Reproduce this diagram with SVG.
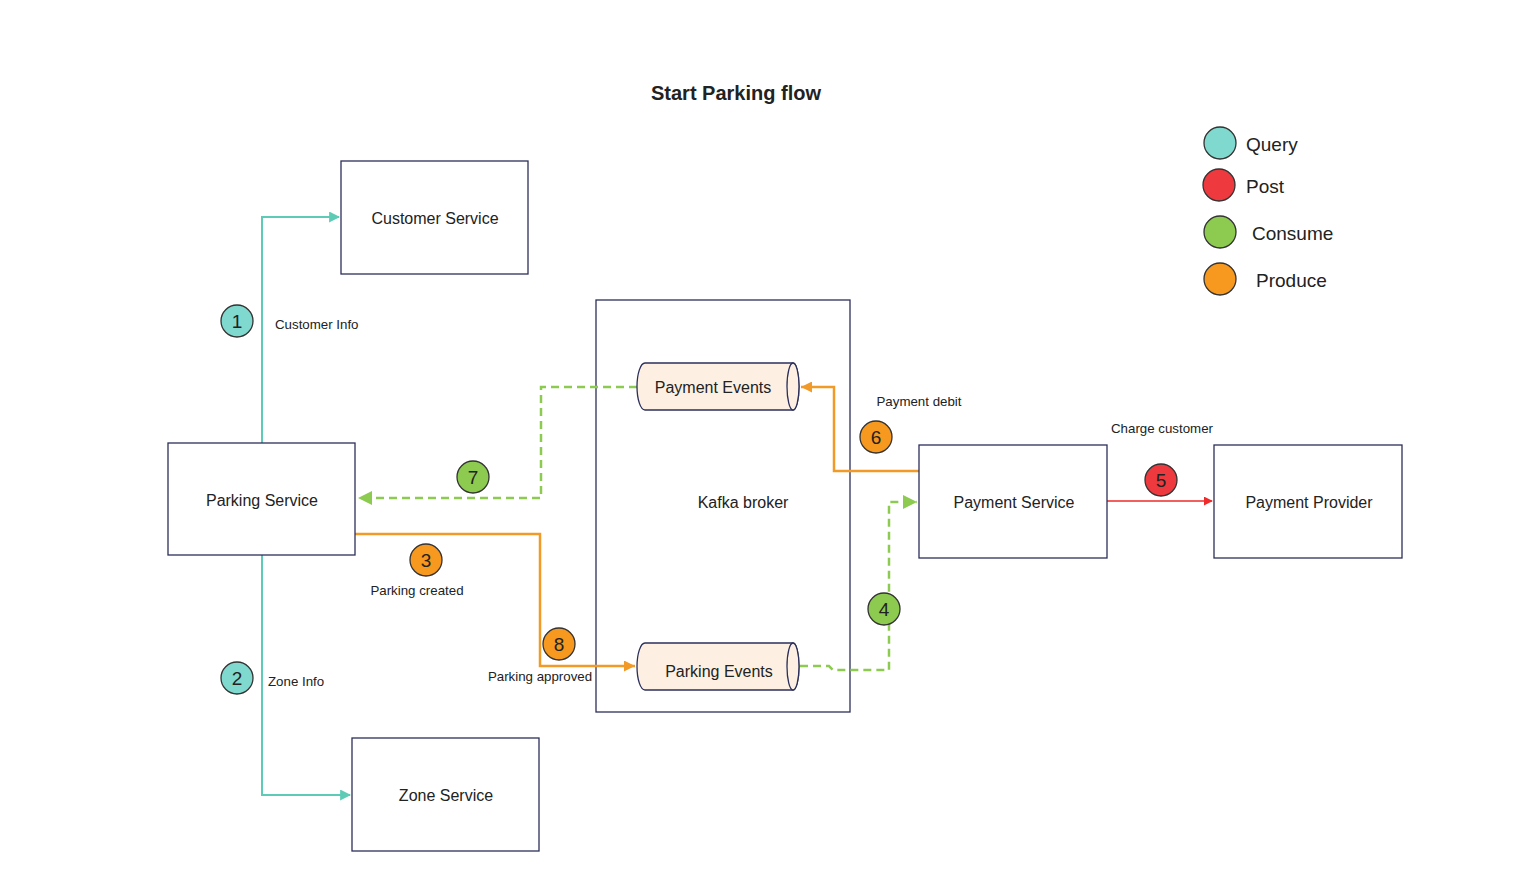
<svg xmlns="http://www.w3.org/2000/svg" width="1536" height="878" viewBox="0 0 1536 878">
<defs>
<style>
.box{fill:#fff;stroke:#2b2f5a;stroke-width:1.3}
.cyl{fill:#fdf0e3;stroke:#2b2f5a;stroke-width:1.3}
.t{font-family:"Liberation Sans",Arial,sans-serif;font-size:16px;fill:#222;text-anchor:middle;dominant-baseline:central}
.s{font-family:"Liberation Sans",Arial,sans-serif;font-size:13.3px;fill:#222}
.n{font-family:"Liberation Sans",Arial,sans-serif;font-size:19px;fill:#222;text-anchor:middle;dominant-baseline:central}
.lg{font-family:"Liberation Sans",Arial,sans-serif;font-size:19px;fill:#222;dominant-baseline:central}
.c{stroke:#333;stroke-width:1.3}
.q{fill:#80d9cf}.p{fill:#ee3a3f}.g{fill:#8ccb4f}.o{fill:#f7991e}
.lq{fill:none;stroke:#5ecbb6;stroke-width:2}
.lo{fill:none;stroke:#f29a27;stroke-width:2.5}
.lg2{fill:none;stroke:#8ccb4f;stroke-width:2.5;stroke-dasharray:8 5}
.lr{fill:none;stroke:#ee2a2a;stroke-width:1.5}
</style>
<marker id="aq" markerWidth="11" markerHeight="11" refX="9" refY="5" orient="auto" markerUnits="userSpaceOnUse" viewBox="0 0 10 10"><path d="M0,0 L10,5 L0,10 Z" fill="#5ecbb6"/></marker>
<marker id="ao" markerWidth="11" markerHeight="11" refX="10" refY="5" orient="auto" markerUnits="userSpaceOnUse" viewBox="0 0 10 10"><path d="M0,0 L10,5 L0,10 Z" fill="#f29a27"/></marker>
<marker id="ag" markerWidth="14" markerHeight="14" refX="10" refY="5" orient="auto" markerUnits="userSpaceOnUse" viewBox="0 0 10 10"><path d="M0,0 L10,5 L0,10 Z" fill="#8ccb4f"/></marker>
<marker id="ar" markerWidth="9" markerHeight="9" refX="9" refY="5" orient="auto" markerUnits="userSpaceOnUse" viewBox="0 0 10 10"><path d="M0,0 L10,5 L0,10 Z" fill="#ee2a2a"/></marker>
</defs>
<rect width="1536" height="878" fill="#fff"/>
<text x="736" y="93" font-family="Liberation Sans,Arial,sans-serif" font-size="20" font-weight="bold" fill="#222" text-anchor="middle" dominant-baseline="central">Start Parking flow</text>

<g id="kafka"><rect class="box" x="596" y="300" width="254" height="412"/><text class="t" x="743" y="502">Kafka broker</text></g>

<g id="connectors">
<path class="lq" d="M262,443 V217 H339" marker-end="url(#aq)"/>
<path class="lq" d="M262,555 V795 H350" marker-end="url(#aq)"/>
<path class="lo" d="M355,534 H540 V666 H635" marker-end="url(#ao)"/>
<path class="lg2" d="M637,387 H541 V498 H358" marker-end="url(#ag)"/>
<path class="lo" d="M919,471 H834 V387 H801" marker-end="url(#ao)"/>
<path class="lg2" d="M800,666 H829 L833,670 H889 V502 H917" marker-end="url(#ag)"/>
<path class="lr" d="M1107,501 H1212" marker-end="url(#ar)"/>
</g>

<g id="customer-service"><rect class="box" x="341" y="161" width="187" height="113"/><text class="t" x="435" y="218">Customer Service</text></g>
<g id="parking-service"><rect class="box" x="168" y="443" width="187" height="112"/><text class="t" x="262" y="500">Parking Service</text></g>
<g id="zone-service"><rect class="box" x="352" y="738" width="187" height="113"/><text class="t" x="446" y="795">Zone Service</text></g>
<g id="payment-service"><rect class="box" x="919" y="445" width="188" height="113"/><text class="t" x="1014" y="502">Payment Service</text></g>
<g id="payment-provider"><rect class="box" x="1214" y="445" width="188" height="113"/><text class="t" x="1309" y="502">Payment Provider</text></g>

<g id="payment-events">
<path class="cyl" d="M645,363 H793 A6,23.5 0 0 1 793,410 H645 A8,23.5 0 0 1 645,363 Z"/>
<ellipse class="cyl" cx="793" cy="386.5" rx="6" ry="23.5"/>
<text class="t" x="713" y="387">Payment Events</text>
</g>
<g id="parking-events">
<path class="cyl" d="M645,643 H793 A6,23.5 0 0 1 793,690 H645 A8,23.5 0 0 1 645,643 Z"/>
<ellipse class="cyl" cx="793" cy="666.5" rx="6" ry="23.5"/>
<text class="t" x="719" y="671">Parking Events</text>
</g>

<g id="badges">
<circle class="c q" cx="237" cy="321" r="16"/><text class="n" x="237" y="321">1</text>
<text class="s" x="275" y="329">Customer Info</text>
<circle class="c q" cx="237" cy="678" r="16"/><text class="n" x="237" y="678">2</text>
<text class="s" x="268" y="686">Zone Info</text>
<circle class="c o" cx="426" cy="560" r="16"/><text class="n" x="426" y="560">3</text>
<text class="s" x="417" y="595" text-anchor="middle">Parking created</text>
<circle class="c g" cx="884" cy="609" r="16"/><text class="n" x="884" y="609">4</text>
<circle class="c p" cx="1161" cy="480" r="16"/><text class="n" x="1161" y="480">5</text>
<text class="s" x="1162" y="433" text-anchor="middle">Charge customer</text>
<circle class="c o" cx="876" cy="437" r="16"/><text class="n" x="876" y="437">6</text>
<text class="s" x="919" y="406" text-anchor="middle">Payment debit</text>
<circle class="c g" cx="473" cy="477" r="16"/><text class="n" x="473" y="477">7</text>
<circle class="c o" cx="559" cy="644" r="16"/><text class="n" x="559" y="644">8</text>
<text class="s" x="540" y="681" text-anchor="middle">Parking approved</text>
</g>

<g id="legend">
<circle class="c q" cx="1220" cy="143" r="16"/><text class="lg" x="1246" y="144">Query</text>
<circle class="c p" cx="1219" cy="185" r="16"/><text class="lg" x="1246" y="186">Post</text>
<circle class="c g" cx="1220" cy="232" r="16"/><text class="lg" x="1252" y="233">Consume</text>
<circle class="c o" cx="1220" cy="279" r="16"/><text class="lg" x="1256" y="280">Produce</text>
</g>
</svg>
